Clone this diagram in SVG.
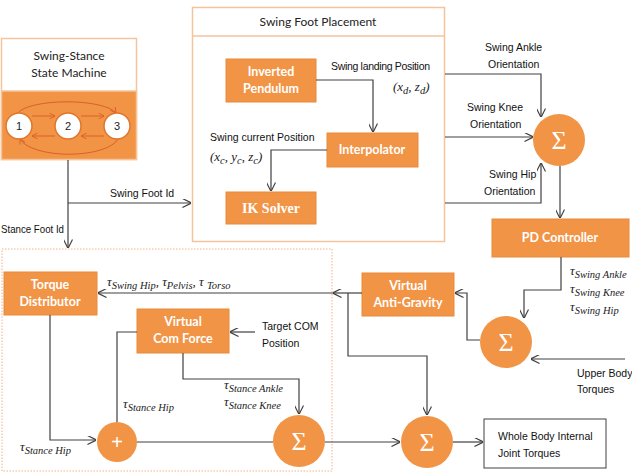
<svg xmlns="http://www.w3.org/2000/svg" width="632" height="473" viewBox="0 0 632 473">
<style>
.node{fill:#F29445;stroke:#E98A3C;stroke-width:1}
.nt{font-family:"Lato","Open Sans",sans-serif;font-weight:bold;font-size:12.5px;fill:#fff;text-anchor:middle}
.ik{font-family:"Liberation Serif",serif;font-weight:bold;font-size:14px;fill:#fff;text-anchor:middle}
.hd{font-family:"Lato","Open Sans",sans-serif;font-size:12px;fill:#222;text-anchor:middle}
.lb{font-family:"Liberation Sans",sans-serif;font-size:10.5px;fill:#111}
.mt{font-family:"Liberation Serif",serif;font-style:italic;font-size:13px;fill:#222}
.sb{font-size:10.5px}
.ln{fill:none;stroke:#404040;stroke-width:1.2}
.sg{font-family:"Liberation Serif",serif;font-size:26px;fill:#fff;text-anchor:middle}
.sm{fill:none;stroke:#D9602A;stroke-width:1}
.st{fill:#fff;stroke:#E0762E;stroke-width:1.5}
.stt{font-family:"Liberation Sans",sans-serif;font-size:11px;fill:#222;text-anchor:middle}
</style>
<defs>
<marker id="ar" viewBox="0 0 10 10" refX="9.5" refY="5" markerWidth="9" markerHeight="9" markerUnits="userSpaceOnUse" orient="auto">
<path d="M0,0 L10,5 L0,10" fill="none" stroke="#404040" stroke-width="1.3"/>
</marker>
<marker id="ao" viewBox="0 0 10 10" refX="9.5" refY="5" markerWidth="6" markerHeight="6" markerUnits="userSpaceOnUse" orient="auto">
<path d="M0,0 L10,5 L0,10" fill="none" stroke="#D9602A" stroke-width="1.5"/>
</marker>
</defs>
<rect width="632" height="473" fill="#fff"/>

<!-- Containers -->
<g id="stance-box">
<rect x="2" y="249" width="330" height="222" fill="none" stroke="#F4B183" stroke-width="1" stroke-dasharray="1.5 1.5"/>
</g>
<g id="swing-foot-placement">
<rect x="192.5" y="7.5" width="252" height="234" fill="none" stroke="#F5C49C" stroke-width="1.5"/>
<line x1="192.5" y1="36" x2="444.5" y2="36" stroke="#F5C49C" stroke-width="1.5"/>
<text class="hd" x="318" y="26">Swing Foot Placement</text>
</g>

<g id="state-machine">
<rect x="1.5" y="38.5" width="135" height="121" fill="#fff" stroke="#F5C49C" stroke-width="1.5"/>
<rect x="1.5" y="91" width="135" height="68.5" fill="#F29445" stroke="#F5C49C" stroke-width="1.5"/>
<text class="hd" x="69" y="60">Swing-Stance</text>
<text class="hd" x="69" y="77">State Machine</text>
<path class="sm" d="M18,113 A50 14 0 0 1 116,113" marker-end="url(#ao)"/>
<path class="sm" d="M118,139 A50 19 0 0 1 20,139" marker-end="url(#ao)"/>
<line class="sm" x1="32" y1="116" x2="55" y2="116" marker-end="url(#ao)"/>
<line class="sm" x1="81" y1="116" x2="104" y2="116" marker-end="url(#ao)"/>
<line class="sm" x1="104" y1="136" x2="81" y2="136" marker-end="url(#ao)"/>
<line class="sm" x1="55" y1="136" x2="32" y2="136" marker-end="url(#ao)"/>
<circle class="st" cx="19" cy="126" r="13"/>
<circle class="st" cx="68" cy="126" r="13"/>
<circle class="st" cx="117" cy="126" r="13"/>
<text class="stt" x="19" y="130">1</text>
<text class="stt" x="68" y="130">2</text>
<text class="stt" x="117" y="130">3</text>
</g>

<!-- Nodes -->
<g id="inverted-pendulum">
<rect class="node" x="226" y="59" width="90" height="43"/>
<text class="nt" x="271" y="76">Inverted</text>
<text class="nt" x="271" y="93">Pendulum</text>
</g>
<g id="interpolator">
<rect class="node" x="327" y="133" width="91" height="34"/>
<text class="nt" x="372" y="154">Interpolator</text>
</g>
<g id="ik-solver">
<rect class="node" x="226" y="192" width="90" height="32"/>
<text class="ik" x="271" y="213">IK Solver</text>
</g>
<g id="sum-swing">
<circle cx="559" cy="140" r="26" fill="#F29445"/>
<text class="sg" x="559" y="149">Σ</text>
</g>
<g id="pd-controller">
<rect class="node" x="492" y="219" width="137" height="38"/>
<text class="nt" x="560" y="242">PD Controller</text>
</g>
<g id="sum-upper">
<circle cx="506" cy="342" r="26" fill="#F29445"/>
<text class="sg" x="506" y="351">Σ</text>
</g>
<g id="virtual-anti-gravity">
<rect class="node" x="362" y="273" width="92" height="43"/>
<text class="nt" x="408" y="290">Virtual</text>
<text class="nt" x="408" y="307">Anti-Gravity</text>
</g>
<g id="torque-distributor">
<rect class="node" x="4" y="272" width="93" height="43"/>
<text class="nt" x="50" y="289">Torque</text>
<text class="nt" x="50" y="306">Distributor</text>
</g>
<g id="virtual-com-force">
<rect class="node" x="137" y="309" width="92" height="44"/>
<text class="nt" x="183" y="326">Virtual</text>
<text class="nt" x="183" y="343">Com Force</text>
</g>
<g id="plus">
<circle cx="117" cy="442" r="20" fill="#F29445"/>
<text x="117" y="449" font-family="Liberation Sans,sans-serif" font-size="20" fill="#fff" text-anchor="middle">+</text>
</g>
<g id="sum-stance">
<circle cx="299" cy="441" r="26" fill="#F29445"/>
<text class="sg" x="299" y="450">Σ</text>
</g>
<g id="sum-total">
<circle cx="427" cy="442" r="26" fill="#F29445"/>
<text class="sg" x="427" y="451">Σ</text>
</g>
<g id="whole-body">
<rect x="484" y="419" width="122" height="49" fill="#fff" stroke="#404040" stroke-width="1"/>
<text class="lb" x="498" y="440">Whole Body Internal</text>
<text class="lb" x="498" y="457">Joint Torques</text>
</g>

<!-- Connectors -->
<g id="connectors">
<path class="ln" d="M68,160 V248" marker-end="url(#ar)"/>
<path class="ln" d="M68,203 H191" marker-end="url(#ar)"/>
<path class="ln" d="M316,80 H373 V132" marker-end="url(#ar)"/>
<path class="ln" d="M327,150 H271 V191" marker-end="url(#ar)"/>
<path class="ln" d="M445,74 H541 V117" marker-end="url(#ar)"/>
<path class="ln" d="M445,137 H533" marker-end="url(#ar)"/>
<path class="ln" d="M445,203 H541 V163" marker-end="url(#ar)"/>
<path class="ln" d="M560,166 V218" marker-end="url(#ar)"/>
<path class="ln" d="M561,257 V290 H524 V318" marker-end="url(#ar)"/>
<path class="ln" d="M625,359 H531" marker-end="url(#ar)"/>
<path class="ln" d="M480,340 H467 V293 H455" marker-end="url(#ar)"/>
<path class="ln" d="M362,293 H333" marker-end="url(#ar)"/>
<path class="ln" d="M333,293 H98" marker-end="url(#ar)"/>
<path class="ln" d="M348,293 V356 H427 V415" marker-end="url(#ar)"/>
<path class="ln" d="M453,442 H483" marker-end="url(#ar)"/>
<path class="ln" d="M325,442 H400" marker-end="url(#ar)"/>
<path class="ln" d="M50,315 V440 H96" marker-end="url(#ar)"/>
<path class="ln" d="M137,442 H273"/>
<path class="ln" d="M117,422 V332 H137"/>
<path class="ln" d="M255,332 H230" marker-end="url(#ar)"/>
<path class="ln" d="M183,353 V379 H299 V414" marker-end="url(#ar)"/>
</g>

<!-- Labels -->
<g id="labels">
<text class="lb" x="110" y="197">Swing Foot Id</text>
<text class="lb" x="1" y="233" textLength="63" lengthAdjust="spacingAndGlyphs">Stance Foot Id</text>
<text class="lb" x="331" y="70" textLength="99">Swing landing Position</text>
<text class="mt" x="393" y="91">(x<tspan class="sb" dy="3">d</tspan><tspan dy="-3">, z</tspan><tspan class="sb" dy="3">d</tspan><tspan dy="-3">)</tspan></text>
<text class="lb" x="210" y="141">Swing current Position</text>
<text class="mt" x="210" y="161">(x<tspan class="sb" dy="3">c</tspan><tspan dy="-3">, y</tspan><tspan class="sb" dy="3">c</tspan><tspan dy="-3">, z</tspan><tspan class="sb" dy="3">c</tspan><tspan dy="-3">)</tspan></text>
<text class="lb" x="485" y="51">Swing Ankle</text>
<text class="lb" x="488" y="68">Orientation</text>
<text class="lb" x="467" y="111">Swing Knee</text>
<text class="lb" x="470" y="128">Orientation</text>
<text class="lb" x="489" y="178">Swing Hip</text>
<text class="lb" x="484" y="195">Orientation</text>
<text class="mt" x="570" y="275">τ<tspan class="sb" dy="3">Swing Ankle</tspan></text>
<text class="mt" x="570" y="293">τ<tspan class="sb" dy="3">Swing Knee</tspan></text>
<text class="mt" x="570" y="311">τ<tspan class="sb" dy="3">Swing Hip</tspan></text>
<text class="lb" x="577" y="377">Upper Body</text>
<text class="lb" x="577" y="393">Torques</text>
<text class="mt" x="107" y="286">τ<tspan class="sb" dy="3">Swing Hip</tspan><tspan dy="-3">,  τ</tspan><tspan class="sb" dy="3">Pelvis</tspan><tspan dy="-3">, τ </tspan><tspan class="sb" dy="3">Torso</tspan></text>
<text class="lb" x="262" y="330">Target COM</text>
<text class="lb" x="262" y="347">Position</text>
<text class="mt" x="224" y="389">τ<tspan class="sb" dy="3">Stance Ankle</tspan></text>
<text class="mt" x="224" y="406">τ<tspan class="sb" dy="3">Stance Knee</tspan></text>
<text class="mt" x="123" y="408">τ<tspan class="sb" dy="3">Stance Hip</tspan></text>
<text class="mt" x="20" y="451">τ<tspan class="sb" dy="3">Stance Hip</tspan></text>
</g>
</svg>
